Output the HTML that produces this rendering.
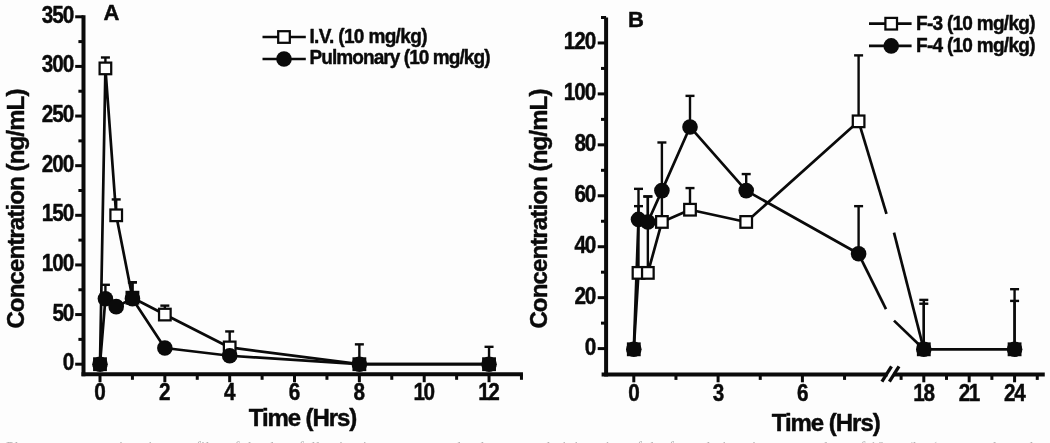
<!DOCTYPE html>
<html lang="en">
<head>
<meta charset="utf-8">
<title>Concentration-time profiles</title>
<style>
html,body{margin:0;padding:0;background:#fdfdfd;}
body{width:1050px;height:443px;overflow:hidden;position:relative;}
svg{display:block;position:absolute;left:0;top:0;filter:blur(0.65px);}
svg text{font-family:"Liberation Sans",Arial,Helvetica,sans-serif;font-weight:bold;fill:#0a0a0a;stroke:#0a0a0a;stroke-width:0.45px;stroke-linejoin:round;}
.cap{position:absolute;left:6px;top:439.2px;width:1040px;height:8px;line-height:16px;white-space:nowrap;overflow:hidden;font-family:"Liberation Serif",serif;font-size:15px;letter-spacing:0.2px;color:#b4b4b4;filter:blur(0.7px);}
</style>
</head>
<body>
<svg width="1050" height="443" viewBox="0 0 1050 443">
<rect x="0" y="0" width="1050" height="443" fill="#fdfdfd"/>
<line x1="83.5" y1="15.29" x2="83.5" y2="376.3" stroke="#0a0a0a" stroke-width="4" stroke-linecap="butt" />
<line x1="81.5" y1="374.3" x2="522.96" y2="374.3" stroke="#0a0a0a" stroke-width="4" stroke-linecap="butt" />
<line x1="75.2" y1="364.2" x2="83.5" y2="364.2" stroke="#0a0a0a" stroke-width="3" stroke-linecap="butt" />
<text transform="translate(74.2,370.2) scale(0.9,1)" font-size="23" text-anchor="end" >0</text>
<line x1="75.2" y1="314.57" x2="83.5" y2="314.57" stroke="#0a0a0a" stroke-width="3" stroke-linecap="butt" />
<text transform="translate(74.2,320.57) scale(0.9,1)" font-size="23" text-anchor="end" textLength="24.02" lengthAdjust="spacing" >50</text>
<line x1="75.2" y1="264.94" x2="83.5" y2="264.94" stroke="#0a0a0a" stroke-width="3" stroke-linecap="butt" />
<text transform="translate(74.2,270.94) scale(0.9,1)" font-size="23" text-anchor="end" textLength="36.03" lengthAdjust="spacing" >100</text>
<line x1="75.2" y1="215.31" x2="83.5" y2="215.31" stroke="#0a0a0a" stroke-width="3" stroke-linecap="butt" />
<text transform="translate(74.2,221.31) scale(0.9,1)" font-size="23" text-anchor="end" textLength="36.03" lengthAdjust="spacing" >150</text>
<line x1="75.2" y1="165.68" x2="83.5" y2="165.68" stroke="#0a0a0a" stroke-width="3" stroke-linecap="butt" />
<text transform="translate(74.2,171.68) scale(0.9,1)" font-size="23" text-anchor="end" textLength="36.03" lengthAdjust="spacing" >200</text>
<line x1="75.2" y1="116.05" x2="83.5" y2="116.05" stroke="#0a0a0a" stroke-width="3" stroke-linecap="butt" />
<text transform="translate(74.2,122.05) scale(0.9,1)" font-size="23" text-anchor="end" textLength="36.03" lengthAdjust="spacing" >250</text>
<line x1="75.2" y1="66.42" x2="83.5" y2="66.42" stroke="#0a0a0a" stroke-width="3" stroke-linecap="butt" />
<text transform="translate(74.2,72.42) scale(0.9,1)" font-size="23" text-anchor="end" textLength="36.03" lengthAdjust="spacing" >300</text>
<line x1="75.2" y1="16.79" x2="83.5" y2="16.79" stroke="#0a0a0a" stroke-width="3" stroke-linecap="butt" />
<text transform="translate(74.2,22.79) scale(0.9,1)" font-size="23" text-anchor="end" textLength="36.03" lengthAdjust="spacing" >350</text>
<line x1="78.4" y1="339.38" x2="83.5" y2="339.38" stroke="#0a0a0a" stroke-width="3" stroke-linecap="butt" />
<line x1="78.4" y1="289.75" x2="83.5" y2="289.75" stroke="#0a0a0a" stroke-width="3" stroke-linecap="butt" />
<line x1="78.4" y1="240.12" x2="83.5" y2="240.12" stroke="#0a0a0a" stroke-width="3" stroke-linecap="butt" />
<line x1="78.4" y1="190.49" x2="83.5" y2="190.49" stroke="#0a0a0a" stroke-width="3" stroke-linecap="butt" />
<line x1="78.4" y1="140.86" x2="83.5" y2="140.86" stroke="#0a0a0a" stroke-width="3" stroke-linecap="butt" />
<line x1="78.4" y1="91.23" x2="83.5" y2="91.23" stroke="#0a0a0a" stroke-width="3" stroke-linecap="butt" />
<line x1="78.4" y1="41.6" x2="83.5" y2="41.6" stroke="#0a0a0a" stroke-width="3" stroke-linecap="butt" />
<line x1="100" y1="374.3" x2="100" y2="382.2" stroke="#0a0a0a" stroke-width="3" stroke-linecap="butt" />
<text transform="translate(100,400) scale(0.9,1)" font-size="23" text-anchor="middle" >0</text>
<line x1="164.84" y1="374.3" x2="164.84" y2="382.2" stroke="#0a0a0a" stroke-width="3" stroke-linecap="butt" />
<text transform="translate(164.84,400) scale(0.9,1)" font-size="23" text-anchor="middle" >2</text>
<line x1="229.68" y1="374.3" x2="229.68" y2="382.2" stroke="#0a0a0a" stroke-width="3" stroke-linecap="butt" />
<text transform="translate(229.68,400) scale(0.9,1)" font-size="23" text-anchor="middle" >4</text>
<line x1="294.52" y1="374.3" x2="294.52" y2="382.2" stroke="#0a0a0a" stroke-width="3" stroke-linecap="butt" />
<text transform="translate(294.52,400) scale(0.9,1)" font-size="23" text-anchor="middle" >6</text>
<line x1="359.36" y1="374.3" x2="359.36" y2="382.2" stroke="#0a0a0a" stroke-width="3" stroke-linecap="butt" />
<text transform="translate(359.36,400) scale(0.9,1)" font-size="23" text-anchor="middle" >8</text>
<line x1="424.2" y1="374.3" x2="424.2" y2="382.2" stroke="#0a0a0a" stroke-width="3" stroke-linecap="butt" />
<text transform="translate(424.2,400) scale(0.9,1)" font-size="23" text-anchor="middle" textLength="24.02" lengthAdjust="spacing" >10</text>
<line x1="489.04" y1="374.3" x2="489.04" y2="382.2" stroke="#0a0a0a" stroke-width="3" stroke-linecap="butt" />
<text transform="translate(489.04,400) scale(0.9,1)" font-size="23" text-anchor="middle" textLength="24.02" lengthAdjust="spacing" >12</text>
<line x1="132.42" y1="374.3" x2="132.42" y2="379.8" stroke="#0a0a0a" stroke-width="3" stroke-linecap="butt" />
<line x1="197.26" y1="374.3" x2="197.26" y2="379.8" stroke="#0a0a0a" stroke-width="3" stroke-linecap="butt" />
<line x1="262.1" y1="374.3" x2="262.1" y2="379.8" stroke="#0a0a0a" stroke-width="3" stroke-linecap="butt" />
<line x1="326.94" y1="374.3" x2="326.94" y2="379.8" stroke="#0a0a0a" stroke-width="3" stroke-linecap="butt" />
<line x1="391.78" y1="374.3" x2="391.78" y2="379.8" stroke="#0a0a0a" stroke-width="3" stroke-linecap="butt" />
<line x1="456.62" y1="374.3" x2="456.62" y2="379.8" stroke="#0a0a0a" stroke-width="3" stroke-linecap="butt" />
<line x1="521.46" y1="374.3" x2="521.46" y2="379.8" stroke="#0a0a0a" stroke-width="3" stroke-linecap="butt" />
<text x="303" y="426.4" font-size="24" text-anchor="middle" textLength="108.5" lengthAdjust="spacing" >Time (Hrs)</text>
<text transform="translate(24.4,208.6) rotate(-90)" font-size="24" text-anchor="middle" textLength="240" lengthAdjust="spacing">Concentration (ng/mL)</text>
<text x="111.5" y="20.2" font-size="22" text-anchor="middle" >A</text>
<line x1="105.41" y1="68.41" x2="105.41" y2="57.49" stroke="#0a0a0a" stroke-width="2.4" stroke-linecap="butt" />
<line x1="100.91" y1="57.49" x2="109.91" y2="57.49" stroke="#0a0a0a" stroke-width="2.4" stroke-linecap="butt" />
<line x1="116.21" y1="215.31" x2="116.21" y2="199.43" stroke="#0a0a0a" stroke-width="2.4" stroke-linecap="butt" />
<line x1="111.71" y1="199.43" x2="120.71" y2="199.43" stroke="#0a0a0a" stroke-width="2.4" stroke-linecap="butt" />
<line x1="132.42" y1="297.7" x2="132.42" y2="282.31" stroke="#0a0a0a" stroke-width="2.4" stroke-linecap="butt" />
<line x1="127.92" y1="282.31" x2="136.92" y2="282.31" stroke="#0a0a0a" stroke-width="2.4" stroke-linecap="butt" />
<line x1="164.84" y1="314.57" x2="164.84" y2="305.64" stroke="#0a0a0a" stroke-width="2.4" stroke-linecap="butt" />
<line x1="160.34" y1="305.64" x2="169.34" y2="305.64" stroke="#0a0a0a" stroke-width="2.4" stroke-linecap="butt" />
<line x1="229.68" y1="347.43" x2="229.68" y2="331.44" stroke="#0a0a0a" stroke-width="2.4" stroke-linecap="butt" />
<line x1="225.18" y1="331.44" x2="234.18" y2="331.44" stroke="#0a0a0a" stroke-width="2.4" stroke-linecap="butt" />
<line x1="359.36" y1="364.2" x2="359.36" y2="344.35" stroke="#0a0a0a" stroke-width="2.4" stroke-linecap="butt" />
<line x1="354.86" y1="344.35" x2="363.86" y2="344.35" stroke="#0a0a0a" stroke-width="2.4" stroke-linecap="butt" />
<line x1="489.04" y1="364.2" x2="489.04" y2="346.83" stroke="#0a0a0a" stroke-width="2.4" stroke-linecap="butt" />
<line x1="484.54" y1="346.83" x2="493.54" y2="346.83" stroke="#0a0a0a" stroke-width="2.4" stroke-linecap="butt" />
<line x1="105.41" y1="298.69" x2="105.41" y2="284.79" stroke="#0a0a0a" stroke-width="2.4" stroke-linecap="butt" />
<line x1="100.91" y1="284.79" x2="109.91" y2="284.79" stroke="#0a0a0a" stroke-width="2.4" stroke-linecap="butt" />
<line x1="132.42" y1="298.69" x2="132.42" y2="282.31" stroke="#0a0a0a" stroke-width="2.4" stroke-linecap="butt" />
<line x1="127.92" y1="282.31" x2="136.92" y2="282.31" stroke="#0a0a0a" stroke-width="2.4" stroke-linecap="butt" />
<polyline fill="none" stroke="#0a0a0a" stroke-width="2.7" stroke-linejoin="round" points="100,364.2 105.41,68.41 116.21,215.31 132.42,297.7 164.84,314.57 229.68,347.43 359.36,364.2 489.04,364.2"/>
<polyline fill="none" stroke="#0a0a0a" stroke-width="2.7" stroke-linejoin="round" points="100,364.2 105.41,298.69 116.21,306.63 132.42,298.69 164.84,348.02 229.68,355.76 359.36,364.2 489.04,364.2"/>
<rect x="94.2" y="358.4" width="11.6" height="11.6" fill="#ffffff" stroke="#0a0a0a" stroke-width="2.25"/>
<rect x="99.61" y="62.61" width="11.6" height="11.6" fill="#ffffff" stroke="#0a0a0a" stroke-width="2.25"/>
<rect x="110.41" y="209.51" width="11.6" height="11.6" fill="#ffffff" stroke="#0a0a0a" stroke-width="2.25"/>
<rect x="126.62" y="291.9" width="11.6" height="11.6" fill="#ffffff" stroke="#0a0a0a" stroke-width="2.25"/>
<rect x="159.04" y="308.77" width="11.6" height="11.6" fill="#ffffff" stroke="#0a0a0a" stroke-width="2.25"/>
<rect x="223.88" y="341.63" width="11.6" height="11.6" fill="#ffffff" stroke="#0a0a0a" stroke-width="2.25"/>
<rect x="353.56" y="358.4" width="11.6" height="11.6" fill="#ffffff" stroke="#0a0a0a" stroke-width="2.25"/>
<rect x="483.24" y="358.4" width="11.6" height="11.6" fill="#ffffff" stroke="#0a0a0a" stroke-width="2.25"/>
<circle cx="100" cy="364.2" r="7.8" fill="#0a0a0a"/>
<circle cx="105.41" cy="298.69" r="7.8" fill="#0a0a0a"/>
<circle cx="116.21" cy="306.63" r="7.8" fill="#0a0a0a"/>
<circle cx="132.42" cy="298.69" r="7.8" fill="#0a0a0a"/>
<circle cx="164.84" cy="348.02" r="7.8" fill="#0a0a0a"/>
<circle cx="229.68" cy="355.76" r="7.8" fill="#0a0a0a"/>
<circle cx="359.36" cy="364.2" r="7.8" fill="#0a0a0a"/>
<circle cx="489.04" cy="364.2" r="7.8" fill="#0a0a0a"/>
<line x1="262.5" y1="37" x2="305.8" y2="37" stroke="#0a0a0a" stroke-width="2.7" stroke-linecap="butt" />
<rect x="278.2" y="31.2" width="11.6" height="11.6" fill="#ffffff" stroke="#0a0a0a" stroke-width="2.25"/>
<text transform="translate(309.5,43.2) scale(0.93,1)" font-size="20.5" text-anchor="start" textLength="126.88" lengthAdjust="spacing" >I.V. (10 mg/kg)</text>
<line x1="262.5" y1="59" x2="305.8" y2="59" stroke="#0a0a0a" stroke-width="2.7" stroke-linecap="butt" />
<circle cx="284" cy="59" r="7.8" fill="#0a0a0a"/>
<text transform="translate(309.5,63.9) scale(0.93,1)" font-size="20.5" text-anchor="start" textLength="194.62" lengthAdjust="spacing" >Pulmonary (10 mg/kg)</text>
<line x1="606.1" y1="17.49" x2="606.1" y2="376.4" stroke="#0a0a0a" stroke-width="4" stroke-linecap="butt" />
<line x1="601.6" y1="374.4" x2="887.6" y2="374.4" stroke="#0a0a0a" stroke-width="4" stroke-linecap="butt" />
<line x1="893.3" y1="374.4" x2="1044.77" y2="374.4" stroke="#0a0a0a" stroke-width="4" stroke-linecap="butt" />
<line x1="881.9" y1="381.6" x2="891.5" y2="366.3" stroke="#0a0a0a" stroke-width="3.3" stroke-linecap="butt" />
<line x1="889.4" y1="381.6" x2="899" y2="366.3" stroke="#0a0a0a" stroke-width="3.3" stroke-linecap="butt" />
<line x1="597.7" y1="348.6" x2="606.1" y2="348.6" stroke="#0a0a0a" stroke-width="3" stroke-linecap="butt" />
<text transform="translate(596.2,354.6) scale(0.9,1)" font-size="23" text-anchor="end" >0</text>
<line x1="597.7" y1="297.66" x2="606.1" y2="297.66" stroke="#0a0a0a" stroke-width="3" stroke-linecap="butt" />
<text transform="translate(596.2,303.66) scale(0.9,1)" font-size="23" text-anchor="end" textLength="24.02" lengthAdjust="spacing" >20</text>
<line x1="597.7" y1="246.72" x2="606.1" y2="246.72" stroke="#0a0a0a" stroke-width="3" stroke-linecap="butt" />
<text transform="translate(596.2,252.72) scale(0.9,1)" font-size="23" text-anchor="end" textLength="24.02" lengthAdjust="spacing" >40</text>
<line x1="597.7" y1="195.78" x2="606.1" y2="195.78" stroke="#0a0a0a" stroke-width="3" stroke-linecap="butt" />
<text transform="translate(596.2,201.78) scale(0.9,1)" font-size="23" text-anchor="end" textLength="24.02" lengthAdjust="spacing" >60</text>
<line x1="597.7" y1="144.84" x2="606.1" y2="144.84" stroke="#0a0a0a" stroke-width="3" stroke-linecap="butt" />
<text transform="translate(596.2,150.84) scale(0.9,1)" font-size="23" text-anchor="end" textLength="24.02" lengthAdjust="spacing" >80</text>
<line x1="597.7" y1="93.9" x2="606.1" y2="93.9" stroke="#0a0a0a" stroke-width="3" stroke-linecap="butt" />
<text transform="translate(596.2,99.9) scale(0.9,1)" font-size="23" text-anchor="end" textLength="36.03" lengthAdjust="spacing" >100</text>
<line x1="597.7" y1="42.96" x2="606.1" y2="42.96" stroke="#0a0a0a" stroke-width="3" stroke-linecap="butt" />
<text transform="translate(596.2,48.96) scale(0.9,1)" font-size="23" text-anchor="end" textLength="36.03" lengthAdjust="spacing" >120</text>
<line x1="601" y1="323.13" x2="606.1" y2="323.13" stroke="#0a0a0a" stroke-width="3" stroke-linecap="butt" />
<line x1="601" y1="272.19" x2="606.1" y2="272.19" stroke="#0a0a0a" stroke-width="3" stroke-linecap="butt" />
<line x1="601" y1="221.25" x2="606.1" y2="221.25" stroke="#0a0a0a" stroke-width="3" stroke-linecap="butt" />
<line x1="601" y1="170.31" x2="606.1" y2="170.31" stroke="#0a0a0a" stroke-width="3" stroke-linecap="butt" />
<line x1="601" y1="119.37" x2="606.1" y2="119.37" stroke="#0a0a0a" stroke-width="3" stroke-linecap="butt" />
<line x1="601" y1="68.43" x2="606.1" y2="68.43" stroke="#0a0a0a" stroke-width="3" stroke-linecap="butt" />
<line x1="601" y1="17.49" x2="606.1" y2="17.49" stroke="#0a0a0a" stroke-width="3" stroke-linecap="butt" />
<line x1="633.8" y1="374.4" x2="633.8" y2="382.3" stroke="#0a0a0a" stroke-width="3" stroke-linecap="butt" />
<text transform="translate(634.1,400.9) scale(0.9,1)" font-size="23" text-anchor="middle" >0</text>
<line x1="718.1" y1="374.4" x2="718.1" y2="382.3" stroke="#0a0a0a" stroke-width="3" stroke-linecap="butt" />
<text transform="translate(718.4,400.9) scale(0.9,1)" font-size="23" text-anchor="middle" >3</text>
<line x1="802.4" y1="374.4" x2="802.4" y2="382.3" stroke="#0a0a0a" stroke-width="3" stroke-linecap="butt" />
<text transform="translate(802.7,400.9) scale(0.9,1)" font-size="23" text-anchor="middle" >6</text>
<line x1="923.8" y1="374.4" x2="923.8" y2="382.3" stroke="#0a0a0a" stroke-width="3" stroke-linecap="butt" />
<text transform="translate(924.1,400.9) scale(0.9,1)" font-size="23" text-anchor="middle" textLength="24.02" lengthAdjust="spacing" >18</text>
<line x1="969.19" y1="374.4" x2="969.19" y2="382.3" stroke="#0a0a0a" stroke-width="3" stroke-linecap="butt" />
<text transform="translate(969.49,400.9) scale(0.9,1)" font-size="23" text-anchor="middle" textLength="24.02" lengthAdjust="spacing" >21</text>
<line x1="1014.58" y1="374.4" x2="1014.58" y2="382.3" stroke="#0a0a0a" stroke-width="3" stroke-linecap="butt" />
<text transform="translate(1014.88,400.9) scale(0.9,1)" font-size="23" text-anchor="middle" textLength="24.02" lengthAdjust="spacing" >24</text>
<line x1="675.95" y1="374.4" x2="675.95" y2="379.9" stroke="#0a0a0a" stroke-width="3" stroke-linecap="butt" />
<line x1="760.25" y1="374.4" x2="760.25" y2="379.9" stroke="#0a0a0a" stroke-width="3" stroke-linecap="butt" />
<line x1="844.55" y1="374.4" x2="844.55" y2="379.9" stroke="#0a0a0a" stroke-width="3" stroke-linecap="butt" />
<line x1="901.1" y1="374.4" x2="901.1" y2="379.9" stroke="#0a0a0a" stroke-width="3" stroke-linecap="butt" />
<line x1="946.5" y1="374.4" x2="946.5" y2="379.9" stroke="#0a0a0a" stroke-width="3" stroke-linecap="butt" />
<line x1="991.88" y1="374.4" x2="991.88" y2="379.9" stroke="#0a0a0a" stroke-width="3" stroke-linecap="butt" />
<line x1="1037.27" y1="374.4" x2="1037.27" y2="379.9" stroke="#0a0a0a" stroke-width="3" stroke-linecap="butt" />
<text x="826.2" y="431" font-size="24" text-anchor="middle" textLength="109" lengthAdjust="spacing" >Time (Hrs)</text>
<text transform="translate(547.4,208.6) rotate(-90)" font-size="24" text-anchor="middle" textLength="240" lengthAdjust="spacing">Concentration (ng/mL)</text>
<text x="636" y="26.7" font-size="22" text-anchor="middle" >B</text>
<line x1="638.49" y1="272.89" x2="638.49" y2="206.16" stroke="#0a0a0a" stroke-width="2.4" stroke-linecap="butt" />
<line x1="633.99" y1="206.16" x2="642.99" y2="206.16" stroke="#0a0a0a" stroke-width="2.4" stroke-linecap="butt" />
<line x1="647.85" y1="272.89" x2="647.85" y2="196.48" stroke="#0a0a0a" stroke-width="2.4" stroke-linecap="butt" />
<line x1="643.35" y1="196.48" x2="652.35" y2="196.48" stroke="#0a0a0a" stroke-width="2.4" stroke-linecap="butt" />
<line x1="661.9" y1="221.95" x2="661.9" y2="191.39" stroke="#0a0a0a" stroke-width="2.4" stroke-linecap="butt" />
<line x1="657.4" y1="191.39" x2="666.4" y2="191.39" stroke="#0a0a0a" stroke-width="2.4" stroke-linecap="butt" />
<line x1="690" y1="209.72" x2="690" y2="188.07" stroke="#0a0a0a" stroke-width="2.4" stroke-linecap="butt" />
<line x1="685.5" y1="188.07" x2="694.5" y2="188.07" stroke="#0a0a0a" stroke-width="2.4" stroke-linecap="butt" />
<line x1="858.6" y1="121.34" x2="858.6" y2="55.38" stroke="#0a0a0a" stroke-width="2.4" stroke-linecap="butt" />
<line x1="854.1" y1="55.38" x2="863.1" y2="55.38" stroke="#0a0a0a" stroke-width="2.4" stroke-linecap="butt" />
<line x1="923.8" y1="349.3" x2="923.8" y2="299.89" stroke="#0a0a0a" stroke-width="2.4" stroke-linecap="butt" />
<line x1="919.3" y1="299.89" x2="928.3" y2="299.89" stroke="#0a0a0a" stroke-width="2.4" stroke-linecap="butt" />
<line x1="1014.58" y1="349.3" x2="1014.58" y2="289.19" stroke="#0a0a0a" stroke-width="2.4" stroke-linecap="butt" />
<line x1="1010.08" y1="289.19" x2="1019.08" y2="289.19" stroke="#0a0a0a" stroke-width="2.4" stroke-linecap="butt" />
<line x1="638.49" y1="219.4" x2="638.49" y2="188.84" stroke="#0a0a0a" stroke-width="2.4" stroke-linecap="butt" />
<line x1="633.99" y1="188.84" x2="642.99" y2="188.84" stroke="#0a0a0a" stroke-width="2.4" stroke-linecap="butt" />
<line x1="647.85" y1="221.95" x2="647.85" y2="196.48" stroke="#0a0a0a" stroke-width="2.4" stroke-linecap="butt" />
<line x1="643.35" y1="196.48" x2="652.35" y2="196.48" stroke="#0a0a0a" stroke-width="2.4" stroke-linecap="butt" />
<line x1="661.9" y1="190.62" x2="661.9" y2="142.48" stroke="#0a0a0a" stroke-width="2.4" stroke-linecap="butt" />
<line x1="657.4" y1="142.48" x2="666.4" y2="142.48" stroke="#0a0a0a" stroke-width="2.4" stroke-linecap="butt" />
<line x1="690" y1="126.95" x2="690" y2="95.87" stroke="#0a0a0a" stroke-width="2.4" stroke-linecap="butt" />
<line x1="685.5" y1="95.87" x2="694.5" y2="95.87" stroke="#0a0a0a" stroke-width="2.4" stroke-linecap="butt" />
<line x1="746.2" y1="190.62" x2="746.2" y2="174.07" stroke="#0a0a0a" stroke-width="2.4" stroke-linecap="butt" />
<line x1="741.7" y1="174.07" x2="750.7" y2="174.07" stroke="#0a0a0a" stroke-width="2.4" stroke-linecap="butt" />
<line x1="858.6" y1="253.79" x2="858.6" y2="206.16" stroke="#0a0a0a" stroke-width="2.4" stroke-linecap="butt" />
<line x1="854.1" y1="206.16" x2="863.1" y2="206.16" stroke="#0a0a0a" stroke-width="2.4" stroke-linecap="butt" />
<line x1="923.8" y1="349.3" x2="923.8" y2="303.71" stroke="#0a0a0a" stroke-width="2.4" stroke-linecap="butt" />
<line x1="919.3" y1="303.71" x2="928.3" y2="303.71" stroke="#0a0a0a" stroke-width="2.4" stroke-linecap="butt" />
<line x1="1014.58" y1="349.3" x2="1014.58" y2="300.91" stroke="#0a0a0a" stroke-width="2.4" stroke-linecap="butt" />
<line x1="1010.08" y1="300.91" x2="1019.08" y2="300.91" stroke="#0a0a0a" stroke-width="2.4" stroke-linecap="butt" />
<polyline fill="none" stroke="#0a0a0a" stroke-width="2.7" stroke-linejoin="round" points="633.8,349.3 638.49,272.89 647.85,272.89 661.9,221.95 690,209.72 746.2,221.95 858.6,121.34"/>
<polyline fill="none" stroke="#0a0a0a" stroke-width="2.7" stroke-linejoin="round" points="633.8,349.3 638.49,219.4 647.85,221.95 661.9,190.62 690,126.95 746.2,190.62 858.6,253.79"/>
<line x1="858.6" y1="121.34" x2="886.5" y2="213.8" stroke="#0a0a0a" stroke-width="2.7" stroke-linecap="butt" />
<line x1="894" y1="232.6" x2="923.8" y2="349.3" stroke="#0a0a0a" stroke-width="2.7" stroke-linecap="butt" />
<line x1="858.6" y1="253.79" x2="886" y2="309.2" stroke="#0a0a0a" stroke-width="2.7" stroke-linecap="butt" />
<line x1="894" y1="320.6" x2="923.8" y2="349.3" stroke="#0a0a0a" stroke-width="2.7" stroke-linecap="butt" />
<line x1="923.8" y1="349.3" x2="1014.58" y2="349.3" stroke="#0a0a0a" stroke-width="2.7" stroke-linecap="butt" />
<rect x="628" y="343.5" width="11.6" height="11.6" fill="#ffffff" stroke="#0a0a0a" stroke-width="2.25"/>
<rect x="632.69" y="267.09" width="11.6" height="11.6" fill="#ffffff" stroke="#0a0a0a" stroke-width="2.25"/>
<rect x="642.05" y="267.09" width="11.6" height="11.6" fill="#ffffff" stroke="#0a0a0a" stroke-width="2.25"/>
<rect x="656.1" y="216.15" width="11.6" height="11.6" fill="#ffffff" stroke="#0a0a0a" stroke-width="2.25"/>
<rect x="684.2" y="203.92" width="11.6" height="11.6" fill="#ffffff" stroke="#0a0a0a" stroke-width="2.25"/>
<rect x="740.4" y="216.15" width="11.6" height="11.6" fill="#ffffff" stroke="#0a0a0a" stroke-width="2.25"/>
<rect x="852.8" y="115.54" width="11.6" height="11.6" fill="#ffffff" stroke="#0a0a0a" stroke-width="2.25"/>
<rect x="918" y="343.5" width="11.6" height="11.6" fill="#ffffff" stroke="#0a0a0a" stroke-width="2.25"/>
<rect x="1008.78" y="343.5" width="11.6" height="11.6" fill="#ffffff" stroke="#0a0a0a" stroke-width="2.25"/>
<circle cx="633.8" cy="349.3" r="7.8" fill="#0a0a0a"/>
<circle cx="638.49" cy="219.4" r="7.8" fill="#0a0a0a"/>
<circle cx="647.85" cy="221.95" r="7.8" fill="#0a0a0a"/>
<circle cx="661.9" cy="190.62" r="7.8" fill="#0a0a0a"/>
<circle cx="690" cy="126.95" r="7.8" fill="#0a0a0a"/>
<circle cx="746.2" cy="190.62" r="7.8" fill="#0a0a0a"/>
<circle cx="858.6" cy="253.79" r="7.8" fill="#0a0a0a"/>
<circle cx="923.8" cy="349.3" r="7.8" fill="#0a0a0a"/>
<circle cx="1014.58" cy="349.3" r="7.8" fill="#0a0a0a"/>
<line x1="869" y1="23.7" x2="911.6" y2="23.7" stroke="#0a0a0a" stroke-width="2.7" stroke-linecap="butt" />
<rect x="885.4" y="17.9" width="11.6" height="11.6" fill="#ffffff" stroke="#0a0a0a" stroke-width="2.25"/>
<text transform="translate(916,29.7) scale(0.93,1)" font-size="20.5" text-anchor="start" textLength="128.49" lengthAdjust="spacing" >F-3 (10 mg/kg)</text>
<line x1="869" y1="45.9" x2="911.6" y2="45.9" stroke="#0a0a0a" stroke-width="2.7" stroke-linecap="butt" />
<circle cx="891.2" cy="45.9" r="7.8" fill="#0a0a0a"/>
<text transform="translate(916,51.7) scale(0.93,1)" font-size="20.5" text-anchor="start" textLength="128.49" lengthAdjust="spacing" >F-4 (10 mg/kg)</text>
</svg>
<div class="cap">Plasma concentration-time profiles of the drug following intravenous and pulmonary administration of the formulations in rats at a dose of 10 mg/kg (mean and standard deviation)</div>
</body>
</html>
